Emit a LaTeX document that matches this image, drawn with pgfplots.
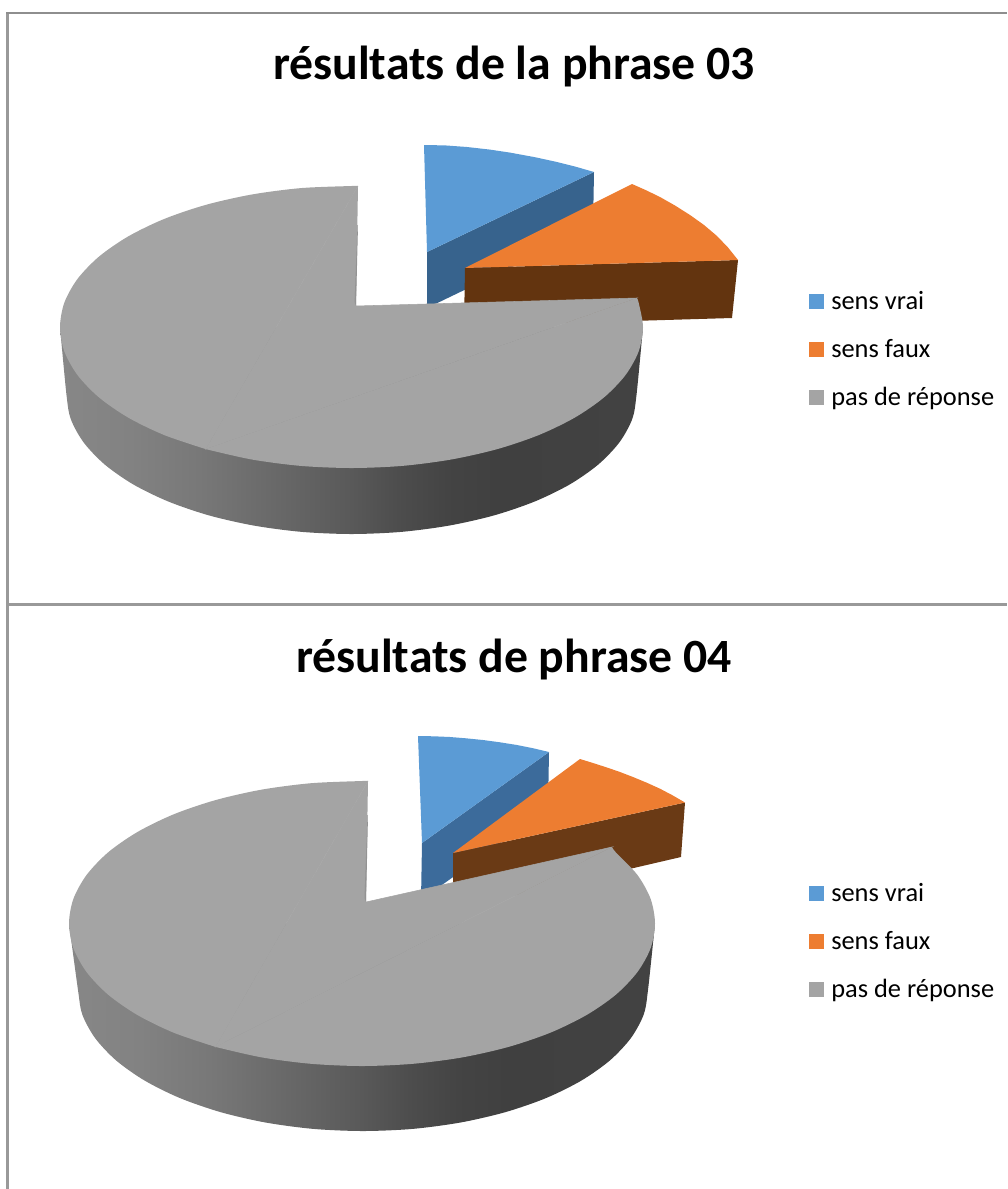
\documentclass[border=0pt]{standalone}
\usepackage{fontspec}
\setmainfont{Carlito}
\usepackage{pgfplots}
\pgfplotsset{compat=1.18}
\definecolor{pblue}{HTML}{5B9BD5}
\definecolor{porange}{HTML}{ED7D31}
\definecolor{pgray}{HTML}{A4A4A4}
\definecolor{dblueA}{HTML}{37638D}
\definecolor{dblueB}{HTML}{3C6B9B}
\definecolor{dorangeA}{HTML}{63340F}
\definecolor{dorangeB}{HTML}{6A3A15}
\definecolor{frameA}{HTML}{8E8E8E}
\definecolor{frameB}{HTML}{999999}
\pgfdeclarehorizontalshading{wallshade}{100bp}{
 rgb(0bp)=(.53,.53,.53); rgb(25bp)=(.53,.53,.53); rgb(31bp)=(.51,.51,.51);
 rgb(37bp)=(.47,.47,.47); rgb(41.3bp)=(.43,.43,.43); rgb(45.6bp)=(.39,.39,.39);
 rgb(49.9bp)=(.35,.35,.35); rgb(54.2bp)=(.30,.30,.30); rgb(58.4bp)=(.265,.265,.265);
 rgb(62.7bp)=(.25,.25,.25); rgb(75bp)=(.26,.26,.26); rgb(100bp)=(.26,.26,.26)}
\begin{document}
\begin{tikzpicture}
\useasboundingbox (0,0) rectangle (755.25pt,891.75pt);
\begin{axis}[scale only axis,width=755.25pt,height=891.75pt,hide axis,at={(0,0)},anchor=south west,
  xmin=0,xmax=1007,ymin=0,ymax=1189,y dir=reverse]
% frame
\addplot[color=frameB,line width=2.25pt] coordinates {(7.5,12) (7.5,1189)};
\addplot[color=frameA,line width=1.5pt] coordinates {(6,13) (1007,13)};
\addplot[color=frameB,line width=1.9pt] coordinates {(7,604.3) (1007,604.3)};

% ===== chart 1 =====
% blue
\addplot[fill=dblueA,draw=none] coordinates {(594,172) (593,228) (427,308) (427,252)};
\addplot[fill=pblue,draw=none] coordinates {(427,252) (424,145) (445,145.4) (467,147) (490,149.6) (510,152.6) (535,157.2) (557,162) (576,166.8) (594,172)};
% orange
\addplot[fill=dorangeA,draw=none] coordinates {(465,268) (738,260) (732,318) (464,326)};
\addplot[fill=porange,draw=none] coordinates {(465,268) (632,184) (646,190.2) (660,197) (675,205.5) (690,215) (704,225) (717,236) (728,247.5) (738,260)};
% gray wall
\addplot[smooth,shade,shading=wallshade,draw=none] coordinates {(60,327) (66.5,395) (70.8,419.1) (83.7,442.5) (104.7,464.5) (133.2,484.4) (168.3,501.5) (209,515.4) (254,525.6) (302,531.9) (351.5,534) (401,531.9) (449,525.6) (494,515.4) (534.7,501.5) (569.8,484.4) (598.3,464.5) (619.3,442.5) (632.2,419.1) (636.5,395) (643,327)};
% gray top
\addplot[fill=pgray,draw=pgray,line width=.4pt] coordinates {(356,306) (636.7,298) (205.7,449.1) (358,186)};
\addplot[smooth,fill=pgray,draw=none] coordinates {(636.7,298) (638.6,302.5) (643,327) (638.6,351.5) (625.4,375.2) (603.9,397.5) (574.8,417.6) (538.9,435) (497.3,449.1) (451.2,459.5) (402.1,465.9) (351.5,468) (300.9,465.9) (251.8,459.5) (205.7,449.1)};
\addplot[smooth,fill=pgray,draw=none] coordinates {(205.7,449.1) (164.1,435) (128.2,417.6) (99.1,397.5) (77.6,375.2) (64.4,351.5) (60,327) (64.4,302.5) (77.6,278.8) (99.1,256.5) (128.2,236.4) (164.1,219) (205.7,204.9) (251.8,194.5) (300.9,188.1) (351.5,186) (358,186)};
\addplot[fill=gray!85,draw=none] coordinates {(357.5,225) (358,225) (356,306) (354.6,302)};
% legend
\addplot[fill=pblue,draw=none] coordinates {(809,294) (824,294) (824,309) (809,309)};
\addplot[fill=porange,draw=none] coordinates {(809,342) (824,342) (824,357) (809,357)};
\addplot[fill=pgray,draw=none] coordinates {(809,390) (824,390) (824,405) (809,405)};
\node[anchor=base west,inner sep=0pt,font=\fontsize{19.8}{22}\selectfont] at (axis cs:831,309) {sens vrai};
\node[anchor=base west,inner sep=0pt,font=\fontsize{19.8}{22}\selectfont] at (axis cs:831,357) {sens faux};
\node[anchor=base west,inner sep=0pt,font=\fontsize{19.8}{22}\selectfont] at (axis cs:831,405) {pas de réponse};
\node[anchor=base,inner sep=0pt,font=\fontsize{35.8}{40}\selectfont\bfseries] at (axis cs:514,79) {résultats de la phrase 03};

% ===== chart 2 =====
% blue
\addplot[fill=dblueB,draw=none] coordinates {(549,752) (548,809) (421,900) (422,843)};
\addplot[fill=pblue,draw=none] coordinates {(422,843) (418,736) (434,736.3) (450,737) (466,738.3) (483,740) (500,742.3) (517,745) (533,748.2) (549,752)};
% orange
\addplot[fill=dorangeB,draw=none] coordinates {(453,853) (685,802.5) (681,857) (453,910)};
\addplot[fill=porange,draw=none] coordinates {(453,853) (580,759) (593,763) (607,767.5) (620,772) (633,777) (647,782.8) (660,788.7) (672,795) (685,802.5)};
% gray wall
\addplot[smooth,shade,shading=wallshade,draw=none] coordinates {(69,923.5) (78,990) (82.3,1014.5) (95.2,1038.2) (116.2,1060.5) (144.7,1080.6) (179.8,1098) (220.5,1112.1) (265.5,1122.5) (313.5,1128.9) (363,1131) (412.5,1128.9) (460.5,1122.5) (505.5,1112.1) (546.2,1098) (581.3,1080.6) (609.8,1060.5) (630.8,1038.2) (643.7,1014.5) (648,990) (655,923.5)};
% gray top
\addplot[fill=pgray,draw=pgray,line width=.4pt] coordinates {(366,902) (612,847) (215.5,1046.9) (368,781)};
\addplot[smooth,fill=pgray,draw=none] coordinates {(612,847) (615.7,852.2) (637.3,874.8) (650.6,898.8) (655,923.5) (650.6,948.2) (637.3,972.2) (615.7,994.8) (586.4,1015.1) (550.3,1032.7) (508.5,1046.9) (462.2,1057.4) (412.9,1063.8) (362,1066) (311.1,1063.8) (261.8,1057.4) (215.5,1046.9)};
\addplot[smooth,fill=pgray,draw=none] coordinates {(215.5,1046.9) (173.7,1032.7) (137.6,1015.1) (108.3,994.8) (86.7,972.2) (73.4,948.2) (69,923.5) (73.4,898.8) (86.7,874.8) (108.3,852.2) (137.6,831.9) (173.7,814.3) (215.5,800.1) (261.8,789.6) (311.1,783.2) (362,781) (368,781)};
\addplot[fill=gray!85,draw=none] coordinates {(367.5,815) (368,815) (366,902) (364.5,898)};
% legend
\addplot[fill=pblue,draw=none] coordinates {(809,886) (824,886) (824,901) (809,901)};
\addplot[fill=porange,draw=none] coordinates {(809,934) (824,934) (824,949) (809,949)};
\addplot[fill=pgray,draw=none] coordinates {(809,982) (824,982) (824,997) (809,997)};
\node[anchor=base west,inner sep=0pt,font=\fontsize{19.8}{22}\selectfont] at (axis cs:831,901) {sens vrai};
\node[anchor=base west,inner sep=0pt,font=\fontsize{19.8}{22}\selectfont] at (axis cs:831,949) {sens faux};
\node[anchor=base west,inner sep=0pt,font=\fontsize{19.8}{22}\selectfont] at (axis cs:831,997.5) {pas de réponse};
\node[anchor=base,inner sep=0pt,font=\fontsize{35.8}{40}\selectfont\bfseries] at (axis cs:514,672) {résultats de phrase 04};
\end{axis}
\end{tikzpicture}
\end{document}
